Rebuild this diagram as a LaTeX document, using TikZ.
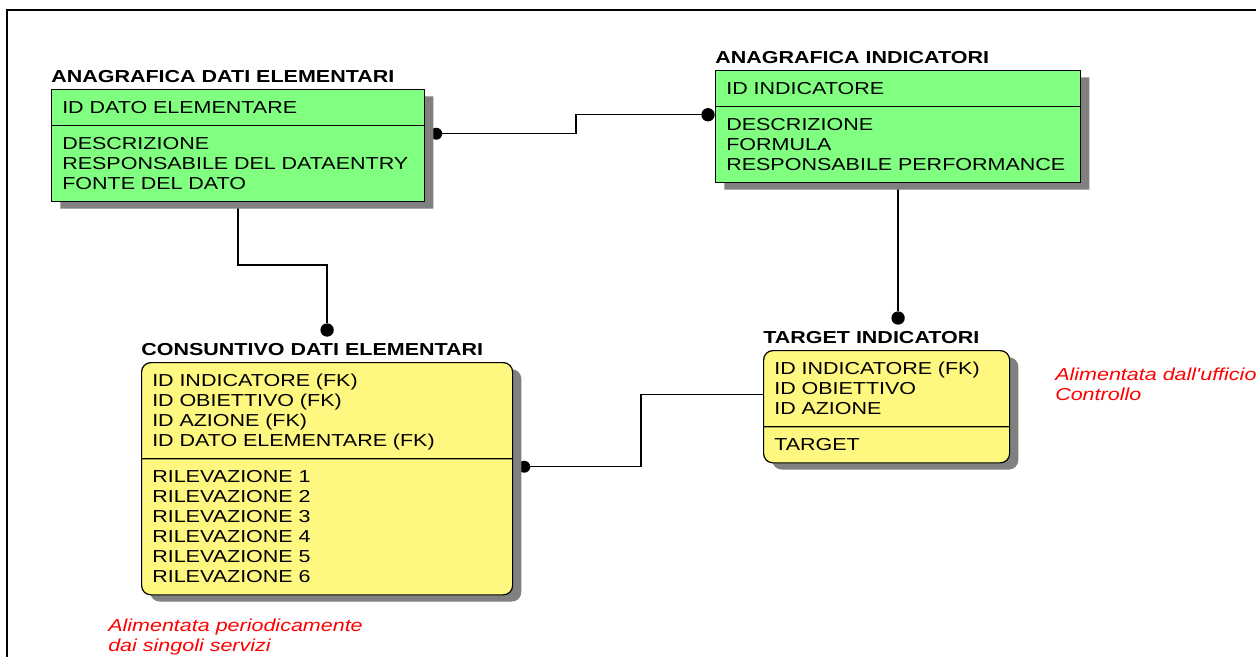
\documentclass[tikz,border=0pt]{standalone}
\usepackage{fontspec}
\newfontfamily\erfont[FakeStretch=1.24]{Liberation Sans}
\usetikzlibrary{positioning,shapes.multipart,shadows,backgrounds}
\newcommand{\rw}{\rule[-3.4pt]{0pt}{15pt}}
\newcommand{\rows}[1]{\rw #1\rw}

\begin{document}
\begin{tikzpicture}
    [x=0.75pt,y=-0.75pt,
     ent/.style={rectangle split, rectangle split parts=2, draw, line width=0.9pt,
       inner xsep=8pt, inner ysep=5.6pt, align=left, anchor=north west,
       font=\erfont\fontsize{13}{15}\selectfont,
       drop shadow={shadow xshift=6.5pt, shadow yshift=-5pt, fill=black!50, opacity=1}},
     grn/.style={ent, fill=green!50},
     ylw/.style={ent, fill=yellow!50, rounded corners=7pt},
     title/.style={font=\erfont\bfseries\fontsize{13}{15}\selectfont, inner sep=0pt},
     note/.style={font=\erfont\itshape\fontsize{13}{15}\selectfont, text=red, align=left, inner sep=0pt, anchor=north west},
     bdot/.style={circle, fill, inner sep=0pt, minimum size=10pt},
     sdot/.style={bdot, minimum size=9pt},
     rel/.style={line width=1pt}]
    \useasboundingbox (0,0) rectangle (1256,657);
    \draw[line width=2pt] (1256,10) -- (7,10) -- (7,657);

    \node[grn, text width=263.75pt] (adati) at (51,89)
      {\rows{ID DATO ELEMENTARE}\nodepart{two}\rows{DESCRIZIONE\\RESPONSABILE DEL DATAENTRY\\FONTE DEL DATO}};
    \node[title, above=5.25pt of adati.north west, anchor=base west] (tadati) {ANAGRAFICA DATI ELEMENTARI};

    \node[grn, text width=257.75pt] (ainds) at (715,70)
      {\rows{ID INDICATORE}\nodepart{two}\rows{DESCRIZIONE\\FORMULA\\RESPONSABILE PERFORMANCE}};
    \node[title, above=5.25pt of ainds.north west, anchor=base west] (tainds) {ANAGRAFICA INDICATORI};

    \node[ylw, text width=262.25pt] (cons) at (141,362)
      {\rows{ID INDICATORE (FK)\\ID OBIETTIVO (FK)\\ID AZIONE (FK)\\ID DATO ELEMENTARE (FK)}\nodepart{two}\rows{RILEVAZIONE 1\\RILEVAZIONE 2\\RILEVAZIONE 3\\RILEVAZIONE 4\\RILEVAZIONE 5\\RILEVAZIONE 6}};
    \node[title, above=5.25pt of cons.north west, anchor=base west] (tcons) {CONSUNTIVO DATI ELEMENTARI};

    \node[ylw, text width=168.5pt] (tgt) at (763,350)
      {\rows{ID INDICATORE (FK)\\ID OBIETTIVO\\ID AZIONE}\nodepart{two}\rows{TARGET}};
    \node[title, above=5.25pt of tgt.north west, anchor=base west] (ttgt) {TARGET INDICATORI};

    \node[note] (ncons) at (108,619) {Alimentata periodicamente\\dai singoli servizi};
    \node[note] (ntgt) at (1055,368) {Alimentata dall'ufficio\\Controllo};

    \begin{scope}[on background layer]
      \node[sdot] (da) at ([xshift=8.25pt,yshift=-6pt]adati.text split east) {};
      \node[bdot] (db) at ([xshift=-5.25pt,yshift=-6pt]ainds.text split west) {};
      \coordinate (k1) at (576,120);
      \draw[rel] (da) -| (k1) |- (db);

      \node[bdot] (dc) at ([yshift=24pt]cons.north) {};
      \coordinate (k2) at (280,265);
      \draw[rel] (adati.south) |- (k2) -| (dc);

      \coordinate (k3) at (tgt.north -| ainds.south);
      \node[bdot] (dt) at ([yshift=24pt]k3) {};
      \draw[rel] (ainds.south) -- (dt);

      \node[sdot] (dc2) at ([xshift=8.25pt,yshift=-6pt]cons.text split east) {};
      \coordinate (k4) at (641,430);
      \draw[rel] (dc2) -| (k4) |- ([yshift=9pt]tgt.west);
    \end{scope}
\end{tikzpicture}
\end{document}
